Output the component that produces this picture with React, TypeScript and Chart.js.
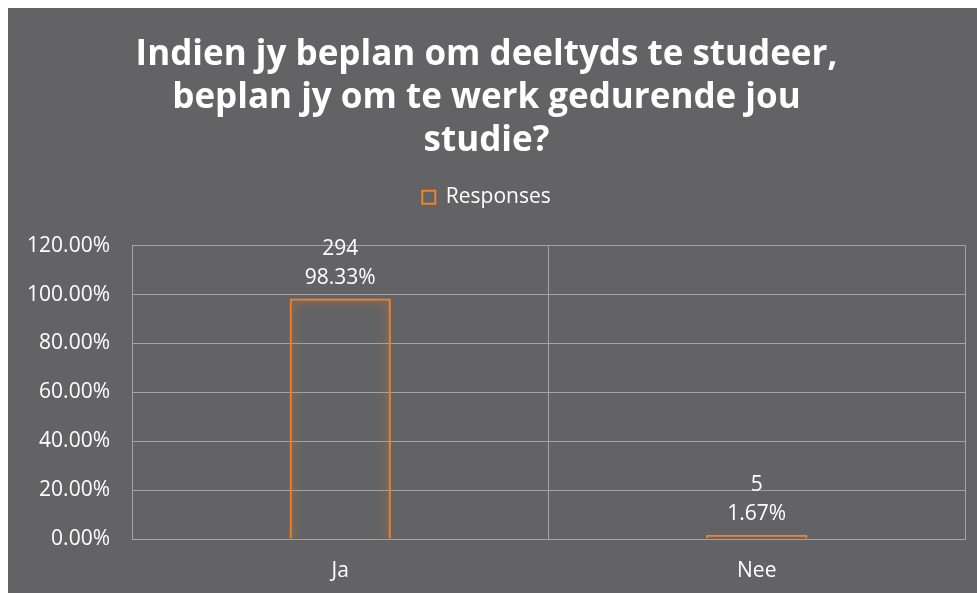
import React, { useEffect, useRef } from 'react';
import { Chart, registerables } from 'chart.js';

Chart.register(...registerables);

const categories = ['Ja', 'Nee'];
const counts = [294, 5];
const percentages = [98.33, 1.67];
const seriesName = 'Responses';
const titleLines = [
  'Indien jy beplan om deeltyds te studeer,',
  'beplan jy om te werk gedurende jou',
  'studie?',
];
const yMax = 120;
const yStep = 20;

const BG = '#636365';
const ORANGE = '#F0822A';
const GRID = '#a3a3a5';
const TEXT = '#ffffff';
const FONT = "'Open Sans', 'DejaVu Sans', sans-serif";
const FS = 21;

const legendSpacing = {
  id: 'legendSpacing',
  beforeInit(chart: any) {
    const legend = chart.legend;
    if (!legend) return;
    const origFit = legend.fit;
    legend.fit = function () {
      origFit.call(this);
      this.height += 28;
    };
  },
};

const barGlow = {
  id: 'barGlow',
  beforeDatasetDraw(chart: any) {
    const ctx = chart.ctx;
    ctx.save();
    ctx.shadowColor = 'rgba(240,130,42,0.9)';
    ctx.shadowBlur = 10;
  },
  afterDatasetDraw(chart: any) {
    chart.ctx.restore();
  },
};

const dataLabels = {
  id: 'dataLabels',
  afterDatasetsDraw(chart: any) {
    const ctx = chart.ctx;
    const meta = chart.getDatasetMeta(0);
    ctx.save();
    ctx.fillStyle = TEXT;
    ctx.font = `${FS}px ${FONT}`;
    ctx.textAlign = 'center';
    ctx.textBaseline = 'middle';
    meta.data.forEach((bar: any, i: number) => {
      const x = bar.x;
      const y = bar.y;
      ctx.fillText(String(counts[i]), x, y - 50);
      ctx.fillText(percentages[i].toFixed(2) + '%', x, y - 21);
    });
    ctx.restore();
  },
};

export default function App() {
  const ref = useRef<HTMLCanvasElement | null>(null);

  useEffect(() => {
    if (!ref.current) return;
    const chart = new Chart(ref.current, {
      type: 'bar',
      data: {
        labels: categories,
        datasets: [
          {
            label: seriesName,
            data: percentages,
            backgroundColor: 'rgba(0,0,0,0)',
            borderColor: ORANGE,
            borderWidth: 2,
            barPercentage: 0.243,
            categoryPercentage: 1,
          },
        ],
      },
      options: {
        responsive: false,
        animation: false,
        layout: { padding: { left: 0, right: 12, top: 0, bottom: 10 } },
        plugins: {
          title: {
            display: true,
            text: titleLines,
            color: TEXT,
            font: { family: FONT, size: 35, weight: 'bold', lineHeight: 1.225 },
            padding: { top: 26, bottom: 14 },
          },
          legend: {
            display: true,
            position: 'top',
            labels: {
              color: TEXT,
              font: { family: FONT, size: FS },
              boxWidth: 13,
              boxHeight: 13,
              padding: 10,
            },
          },
          tooltip: { enabled: false },
        },
        scales: {
          x: {
            offset: true,
            grid: {
              display: true,
              offset: true,
              color: GRID,
              lineWidth: 1,
              drawTicks: false,
            },
            border: { display: true, color: GRID },
            ticks: {
              color: TEXT,
              font: { family: FONT, size: FS },
              padding: 19,
            },
            afterFit(scale: any) {
              scale.height = 44;
            },
          },
          y: {
            min: 0,
            max: yMax,
            grid: { color: GRID, lineWidth: 1, drawTicks: false },
            border: { display: true, color: GRID },
            ticks: {
              stepSize: yStep,
              color: TEXT,
              font: { family: FONT, size: FS },
              padding: 22,
              callback: (v: any) => Number(v).toFixed(2) + '%',
            },
            afterFit(scale: any) {
              scale.width = 124;
            },
          },
        },
      },
      plugins: [legendSpacing, barGlow, dataLabels],
    });
    return () => chart.destroy();
  }, []);

  return (
    <div
      style={{
        position: 'fixed',
        left: 8,
        top: 8,
        width: 969,
        height: 585,
        background: BG,
      }}
    >
      <canvas ref={ref} width={969} height={585} style={{ display: 'block' }} />
    </div>
  );
}
